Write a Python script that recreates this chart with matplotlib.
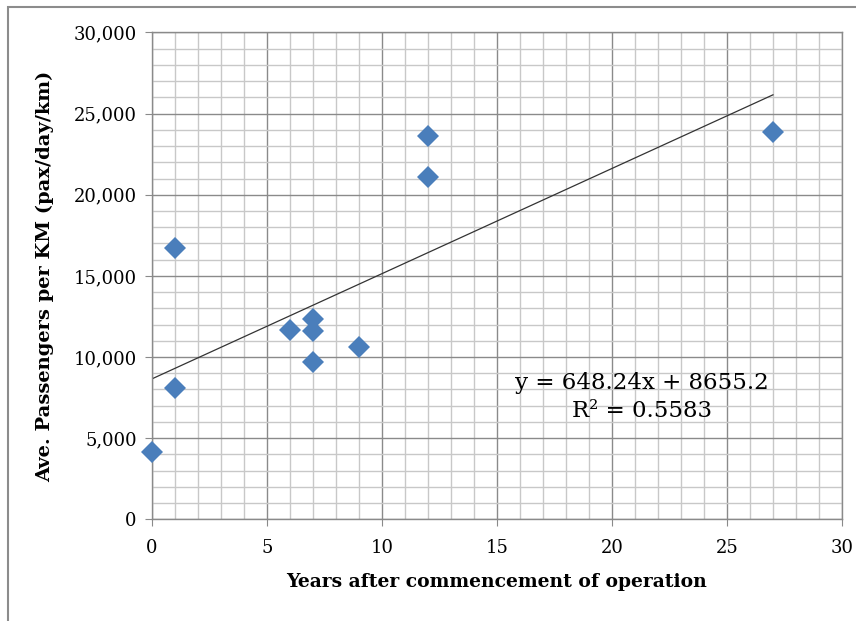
import matplotlib.pyplot as plt
import matplotlib.ticker as mticker
from matplotlib.patches import Rectangle
import numpy as np

# years after start vs avg passengers per km
years = [0, 1, 1, 6, 7, 7, 7, 9, 12, 12, 27]
passengers = [4130, 16700, 8080, 11670, 12350, 11630, 9680, 10620, 23650, 21080, 23840]

# trendline coefficients as printed on the chart
slope = 648.24
intercept = 8655.2
r_squared = 0.5583

plt.rcParams['font.family'] = ['DejaVu Serif']

fig = plt.figure(figsize=(8.56, 6.21), dpi=100)
ax = fig.add_axes([0.1776, 0.1638, 0.9836 - 0.1776, 0.9477 - 0.1638])

# chart frame (cropped Excel chart border)
fig.patches.append(Rectangle((8 / 856, -0.05), 1.1, 1 - 7 / 621 + 0.05,
                             transform=fig.transFigure, fill=False,
                             edgecolor='#8c8c8c', linewidth=1.5))

ax.set_xlim(0, 30)
ax.set_ylim(0, 30000)
ax.xaxis.set_major_locator(mticker.MultipleLocator(5))
ax.xaxis.set_minor_locator(mticker.MultipleLocator(1))
ax.yaxis.set_major_locator(mticker.MultipleLocator(5000))
ax.yaxis.set_minor_locator(mticker.MultipleLocator(1000))
ax.yaxis.set_major_formatter(mticker.FuncFormatter(lambda v, p: f"{int(v):,}"))

ax.grid(which='minor', color='#c8c8c8', linewidth=1.0)
ax.grid(which='major', color='#8a8a8a', linewidth=1.0)
ax.set_axisbelow(True)
for s in ax.spines.values():
    s.set_color('#8a8a8a')
    s.set_linewidth(1.0)

ax.tick_params(which='major', length=5, color='#8a8a8a', labelsize=13, pad=6)
ax.tick_params(axis='x', which='major', pad=9)
ax.tick_params(which='minor', length=0)

xs = np.array([0, 27])
ax.plot(xs, slope * xs + intercept, color='#333333', linewidth=0.9, zorder=2)
ax.plot(years, passengers, linestyle='none', marker='D', markersize=11,
        color='#4a7ebb', markeredgewidth=0, zorder=3, clip_on=False)

ax.text(21.3, 7550, f"y = {slope}x + {intercept}\nR² = {r_squared}",
        ha='center', va='center', fontsize=16.5, linespacing=1.35)

ax.set_xlabel("Years after commencement of operation", fontsize=13.5,
              fontweight='bold', labelpad=12)
ax.set_ylabel("Ave. Passengers per KM (pax/day/km)", fontsize=14,
              fontweight='bold', labelpad=14)

fig.savefig("out.png", dpi=100)
